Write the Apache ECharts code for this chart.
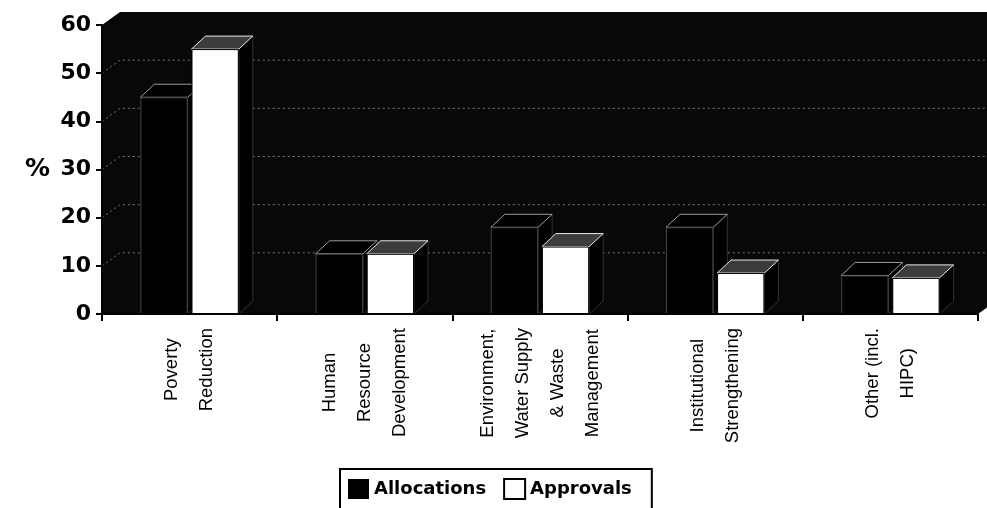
<!DOCTYPE html>
<html>
<head>
<meta charset="utf-8">
<title>Allocations and Approvals by Theme</title>
<script src="https://cdn.jsdelivr.net/npm/echarts@6/dist/echarts.min.js"></script>
<style>
  html, body { margin: 0; padding: 0; background: #ffffff; }
  #chart { width: 987px; height: 508px; }
</style>
</head>
<body>
<div id="chart"></div>
<script>
// Thematic shares, in percent
const categories = [
  'Poverty\nReduction',
  'Human\nResource\nDevelopment',
  'Environment,\nWater Supply\n& Waste\nManagement',
  'Institutional\nStrengthening',
  'Other (incl.\nHIPC)'
];
const allocations = [45, 12.5, 18, 18, 8];
const approvals = [55, 12.5, 14, 8.5, 7.5];
const seriesNames = ['Allocations', 'Approvals'];
const valueAxisMin = 0;
const valueAxisMax = 60;
const valueAxisStep = 10;

// Pseudo-3D settings
const BAR_FRAC = 0.27;   // bar width as a share of the category band
const GAP_FRAC = 0.08;   // gap between paired bars, share of bar width
const DX = 14, DY = -13; // depth offset of bar caps
const WALL_DX = 18, WALL_DY = -13; // depth offset of the back wall

const chart = echarts.init(document.getElementById('chart'), null, { renderer: 'canvas' });

// Back wall, floor and gridlines of the 3D box
function renderWall(params, api) {
  const cs = params.coordSys;
  const x = cs.x, y = cs.y, w = cs.width, h = cs.height;
  const children = [{
    type: 'polygon',
    shape: { points: [
      [x, y], [x + WALL_DX, y + WALL_DY], [x + w + WALL_DX, y + WALL_DY],
      [x + w + WALL_DX, y + h + WALL_DY], [x + w, y + h], [x, y + h]
    ] },
    style: { fill: '#080808' }
  }];
  for (let v = valueAxisMin + valueAxisStep; v < valueAxisMax; v += valueAxisStep) {
    const yy = api.coord([0, v])[1];
    children.push({
      type: 'polyline',
      shape: { points: [[x, yy], [x + WALL_DX, yy + WALL_DY], [x + w + WALL_DX, yy + WALL_DY]] },
      style: { stroke: '#777777', lineWidth: 1, lineDash: [2, 3], fill: null }
    });
  }
  return { type: 'group', children: children };
}

// Top and side faces drawn behind each bar's front face
function capRenderer(slot, topFill, edge) {
  return function (params, api) {
    const i = api.value(0), v = api.value(1);
    const c = api.coord([i, v]);
    const b = api.coord([i, 0]);
    const band = api.size([1, 0])[0];
    const bw = band * BAR_FRAC, gap = bw * GAP_FRAC;
    const x0 = c[0] - (2 * bw + gap) / 2 + slot * (bw + gap);
    const x1 = x0 + bw;
    const yT = c[1], yB = b[1];
    return {
      type: 'group',
      children: [
        {
          type: 'polygon',
          shape: { points: [[x1, yT], [x1 + DX, yT + DY], [x1 + DX, yB + DY], [x1, yB]] },
          style: { fill: '#000', stroke: '#333333', lineWidth: 1 }
        },
        {
          type: 'polygon',
          shape: { points: [[x0, yT], [x0 + DX, yT + DY], [x1 + DX, yT + DY], [x1, yT]] },
          style: { fill: topFill, stroke: edge, lineWidth: 1 }
        }
      ]
    };
  };
}

const labelFont = 'Liberation Sans, Arial, sans-serif';
const boldFont = 'DejaVu Sans, sans-serif';

const option = {
  backgroundColor: '#ffffff',
  animation: false,
  grid: { left: 102, right: 9, top: 25, bottom: 194, containLabel: false },
  legend: {
    left: 340,
    top: 469,
    orient: 'horizontal',
    icon: 'rect',
    itemWidth: 21,
    itemHeight: 20,
    itemGap: 17,
    padding: [9, 20, 14, 8],
    borderColor: '#000',
    borderWidth: 2,
    borderRadius: 0,
    textStyle: { fontFamily: boldFont, fontWeight: 'bold', fontSize: 18, color: '#000' },
    data: [
      { name: seriesNames[0], itemStyle: { color: '#000', borderWidth: 0 } },
      { name: seriesNames[1], itemStyle: { color: '#fff', borderColor: '#000', borderWidth: 2 } }
    ]
  },
  xAxis: {
    type: 'category',
    data: categories,
    z: 5,
    axisLine: { show: true, lineStyle: { color: '#000', width: 2 } },
    axisTick: { show: true, length: 7, lineStyle: { color: '#000', width: 2 } },
    axisLabel: {
      interval: 0,
      rotate: 90,
      margin: 14,
      color: '#000',
      fontFamily: labelFont,
      fontSize: 18.5,
      formatter: function (value) {
        return value.split('\n').map(function (s) { return '{c|' + s + '}'; }).join('\n');
      },
      rich: {
        c: { align: 'center', fontFamily: labelFont, fontSize: 18.5, lineHeight: 35, color: '#000' }
      }
    },
    splitLine: { show: false }
  },
  yAxis: {
    type: 'value',
    min: valueAxisMin,
    max: valueAxisMax,
    interval: valueAxisStep,
    z: 5,
    name: '%',
    nameLocation: 'middle',
    nameRotate: 0,
    nameGap: 52,
    nameTextStyle: { fontFamily: boldFont, fontWeight: 'bold', fontSize: 25, color: '#000' },
    axisLine: { show: true, lineStyle: { color: '#000', width: 2 } },
    axisTick: { show: true, length: 6, lineStyle: { color: '#000', width: 2 } },
    axisLabel: { margin: 11, color: '#000', fontFamily: boldFont, fontWeight: 'bold', fontSize: 22 },
    splitLine: { show: false }
  },
  series: [
    {
      type: 'custom',
      name: 'wall',
      z: 0,
      silent: true,
      renderItem: renderWall,
      data: [[0, 0]],
      encode: { x: 0, y: 1 }
    },
    {
      type: 'custom',
      name: 'allocationCaps',
      z: 1,
      silent: true,
      renderItem: capRenderer(0, '#000', '#9a9a9a'),
      data: allocations.map(function (v, i) { return [i, v]; }),
      encode: { x: 0, y: 1 }
    },
    {
      type: 'custom',
      name: 'approvalCaps',
      z: 1,
      silent: true,
      renderItem: capRenderer(1, '#3c3c3c', '#e8e8e8'),
      data: approvals.map(function (v, i) { return [i, v]; }),
      encode: { x: 0, y: 1 }
    },
    {
      type: 'bar',
      name: seriesNames[0],
      z: 2,
      data: allocations,
      barWidth: (BAR_FRAC * 100) + '%',
      barGap: (GAP_FRAC * 100) + '%',
      itemStyle: { color: '#000', borderColor: '#444444', borderWidth: 1 }
    },
    {
      type: 'bar',
      name: seriesNames[1],
      z: 2,
      data: approvals,
      barWidth: (BAR_FRAC * 100) + '%',
      barGap: (GAP_FRAC * 100) + '%',
      itemStyle: { color: '#fff', borderColor: '#000', borderWidth: 1 }
    }
  ]
};

chart.setOption(option);
</script>
</body>
</html>
